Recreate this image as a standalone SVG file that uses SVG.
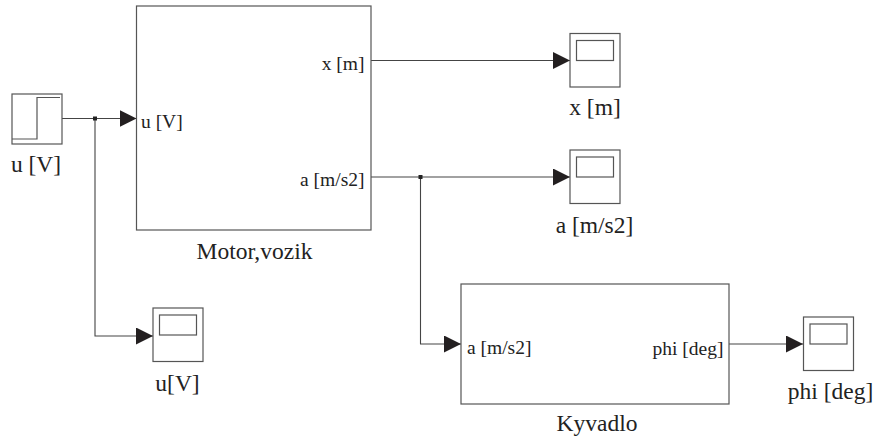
<svg xmlns="http://www.w3.org/2000/svg" width="873" height="436" viewBox="0 0 873 436">
<style>
.b{fill:#fff;stroke:#555;stroke-width:1.2}
.s{fill:none;stroke:#555;stroke-width:1.2}
.w{fill:none;stroke:#444;stroke-width:1.1}
text{font-family:"Liberation Serif","Times New Roman",serif;fill:#222}
.p{font-size:19.500px}
.l{font-size:23.500px}
.m{text-anchor:middle}
.e{text-anchor:end}
</style>
<defs>
<marker id="a" markerUnits="userSpaceOnUse" markerWidth="17" markerHeight="17" refX="17" refY="8.500" orient="auto" viewBox="0 0 17 17"><path d="M0 0L17 8.500L0 17Z" fill="#231f20"/></marker>
<g id="sc"><rect class="b" x="0" y="0" width="50" height="53.500"/><rect class="s" x="6.500" y="7" width="37" height="20"/></g>
</defs>
<rect width="873" height="436" fill="#fff"/>
<g id="connectors">
<path class="w" d="M62 118.500H136.500" marker-end="url(#a)"/>
<path class="w" d="M95 118.500V336H153" marker-end="url(#a)"/>
<path class="w" d="M371 60.500H570" marker-end="url(#a)"/>
<path class="w" d="M371 177H570" marker-end="url(#a)"/>
<path class="w" d="M420.500 177V344H461" marker-end="url(#a)"/>
<path class="w" d="M729 344H803" marker-end="url(#a)"/>
<rect x="93" y="116.500" width="4" height="4" fill="#222"/>
<rect x="418.500" y="175" width="4" height="4" fill="#222"/>
</g>
<g id="step"><rect class="b" x="12" y="94" width="50" height="50"/><path class="s" d="M12 139H37V97.500H60"/><text class="l m" x="36" y="171.500">u [V]</text></g>
<g id="motor"><rect class="b" x="136.500" y="6" width="234.500" height="224"/><text class="p" x="141" y="128">u [V]</text><text class="p e" x="364.500" y="70">x [m]</text><text class="p e" x="364.500" y="186">a [m/s2]</text><text class="l m" x="254.500" y="259">Motor,vozik</text></g>
<g id="scope-x"><use href="#sc" x="570" y="33.500"/><text class="l m" x="595" y="115">x [m]</text></g>
<g id="scope-a"><use href="#sc" x="570" y="150"/><text class="l m" x="594.500" y="232.500">a [m/s2]</text></g>
<g id="scope-u"><use href="#sc" x="153" y="308"/><text class="l m" x="177.500" y="391">u[V]</text></g>
<g id="kyvadlo"><rect class="b" x="461" y="284" width="268" height="120"/><text class="p" x="467" y="353.500">a [m/s2]</text><text class="p e" x="723.500" y="355">phi [deg]</text><text class="l m" x="597" y="430.500">Kyvadlo</text></g>
<g id="scope-phi"><use href="#sc" x="803.500" y="317"/><text class="l m" x="830.500" y="398.500">phi [deg]</text></g>
</svg>
